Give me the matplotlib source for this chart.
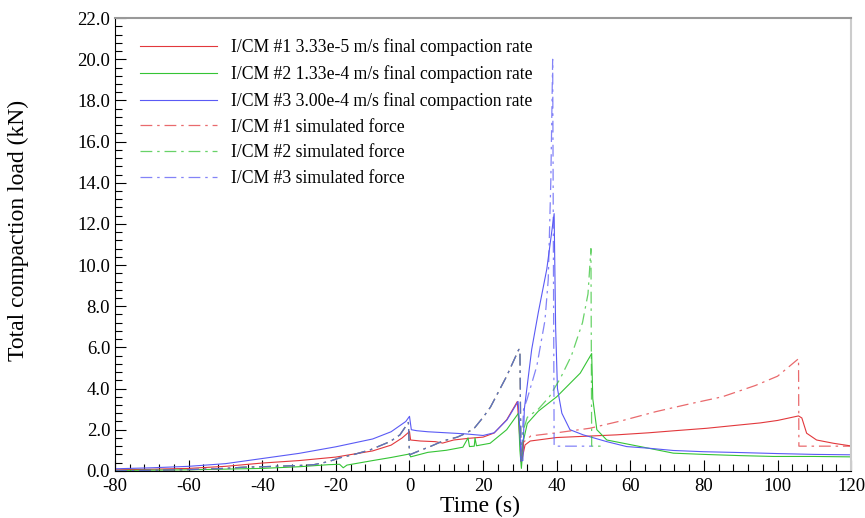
import matplotlib
matplotlib.use("Agg")
import matplotlib.pyplot as plt
from matplotlib.ticker import MultipleLocator, FormatStrFormatter

plt.rcParams["font.family"] = ["Liberation Serif", "DejaVu Serif"]
plt.rcParams["lines.scale_dashes"] = False
plt.rcParams["axes.unicode_minus"] = False

# --- measured curves (time s, load kN) ---
exp1_t = [-80, -70, -60, -50, -40, -30, -20, -10, -5, -2, 0, 0.3, 3, 7, 9, 12, 16, 20, 23,
          26.4, 29.3, 30.0, 30.5, 31.4, 32.8, 40, 50, 56.3, 65, 72, 80.8, 88, 95.3, 100,
          105.7, 106.6, 107.9, 110.6, 115.2, 120]
exp1_y = [0.05, 0.08, 0.12, 0.22, 0.38, 0.5, 0.67, 0.97, 1.25, 1.6, 1.91, 1.5, 1.45, 1.42,
          1.35, 1.5, 1.58, 1.64, 1.84, 2.48, 3.37, 1.5, 0.5, 1.26, 1.45, 1.62, 1.7, 1.75,
          1.85, 1.95, 2.07, 2.2, 2.33, 2.45, 2.67, 2.57, 1.83, 1.5, 1.34, 1.21]

exp2_t = [-80, -60, -40, -30, -22, -19, -18, -17, -10, -5, 0, 0.3, 5, 10, 14.5, 15.9, 16.3,
          17.6, 17.8, 18.2, 21.9, 26.4, 29.6, 30.0, 30.4, 31.0, 32.0, 35, 40, 46.4, 49.5,
          49.8, 50.9, 53.6, 62.7, 71.7, 80, 90, 98.9, 110, 120]
exp2_y = [0.02, 0.05, 0.12, 0.2, 0.3, 0.32, 0.15, 0.28, 0.5, 0.65, 0.82, 0.68, 0.9, 1.0,
          1.15, 1.6, 1.18, 1.2, 1.6, 1.22, 1.34, 2.0, 2.8, 1.0, 0.12, 1.5, 2.3, 2.9, 3.6,
          4.75, 5.7, 3.5, 2.0, 1.5, 1.18, 0.86, 0.8, 0.74, 0.7, 0.7, 0.68]

exp3_t = [-80, -70, -60, -50, -40, -30, -20, -10, -5, -1, 0, 0.5, 2, 5, 10, 15, 20, 23,
          26.5, 29.5, 30.0, 30.3, 30.8, 31.2, 33.2, 35.0, 37.3, 39.3, 39.7, 40.2, 41.4,
          43.6, 47.2, 53.6, 59, 65, 71.7, 80, 89.8, 100, 110, 120]
exp3_y = [0.1, 0.15, 0.22, 0.35, 0.6, 0.85, 1.17, 1.55, 1.9, 2.4, 2.65, 2.0, 1.95, 1.9,
          1.85, 1.8, 1.72, 1.85, 2.48, 3.37, 2.0, 0.5, 0.5, 3.0, 5.9, 7.7, 9.8, 12.5, 7.0,
          4.0, 2.8, 2.0, 1.75, 1.42, 1.18, 1.1, 0.99, 0.93, 0.89, 0.84, 0.8, 0.78]

# --- simulated force: common up to 30 s, then each run on its own ---
sim_pre_t = [-80, -70, -60, -50, -45, -40, -30, -26, -22, -19, -15, -10.7, -5.3, -2.6,
             -0.3, 0.0, 3, 5.6, 9.2, 13, 15, 17.5, 20, 22, 26.4, 29.7]
sim_pre_y = [0.0, 0.03, 0.06, 0.12, 0.18, 0.2, 0.26, 0.3, 0.45, 0.63, 0.8, 1.02, 1.42,
             1.75, 2.35, 0.78, 1.0, 1.18, 1.46, 1.64, 1.8, 2.05, 2.6, 3.1, 4.6, 5.9]

sim1_t = [30.0, 30.3, 31.0, 33, 40, 49, 58, 67, 76, 85, 94, 100, 105.7, 105.8, 120]
sim1_y = [5.9, 0.4, 1.4, 1.7, 1.85, 2.07, 2.45, 2.88, 3.25, 3.6, 4.15, 4.6, 5.45, 1.2, 1.2]

sim2_t = [30.0, 30.3, 31.0, 32, 35, 38, 41, 44, 47, 48.5, 49.3, 49.5, 52]
sim2_y = [5.9, 0.4, 2.0, 2.6, 3.0, 3.6, 4.5, 5.6, 7.2, 8.6, 10.8, 1.2, 1.2]

sim3_t = [30.0, 30.3, 31.0, 31.9, 34.6, 36.8, 37.7, 38.4, 38.9, 39.3, 49.5]
sim3_y = [5.9, 0.4, 3.0, 3.45, 5.1, 7.3, 9.3, 14.1, 20.0, 1.2, 1.2]

labels = ["I/CM #1 3.33e-5 m/s final compaction rate",
          "I/CM #2 1.33e-4 m/s final compaction rate",
          "I/CM #3 3.00e-4 m/s final compaction rate",
          "I/CM #1 simulated force",
          "I/CM #2 simulated force",
          "I/CM #3 simulated force"]
colors = ["#e2383c", "#35c435", "#5a5af5"]

dashdot = (0, (8.5, 3.5, 1.8, 3.5))

fig = plt.figure(figsize=(8.65, 5.18), dpi=100)
ax = fig.add_axes([0.133, 0.091, 0.851, 0.874])

ax.plot(exp1_t, exp1_y, color=colors[0], lw=0.8, label=labels[0])
ax.plot(exp2_t, exp2_y, color=colors[1], lw=0.8, label=labels[1])
ax.plot(exp3_t, exp3_y, color=colors[2], lw=0.8, label=labels[2])

ax.plot(sim_pre_t + sim1_t, sim_pre_y + sim1_y, color=colors[0], lw=0.9, alpha=0.75,
        ls=dashdot, label=labels[3])
ax.plot(sim_pre_t + sim2_t, sim_pre_y + sim2_y, color=colors[1], lw=0.9, alpha=0.75,
        ls=dashdot, label=labels[4])
ax.plot(sim_pre_t + sim3_t, sim_pre_y + sim3_y, color=colors[2], lw=0.9, alpha=0.75,
        ls=dashdot, label=labels[5])

ax.set_xlim(-80, 120)
ax.set_ylim(0, 22)
ax.xaxis.set_major_locator(MultipleLocator(20))
ax.xaxis.set_minor_locator(MultipleLocator(4))
ax.yaxis.set_major_locator(MultipleLocator(2))
ax.yaxis.set_minor_locator(MultipleLocator(0.4))
ax.yaxis.set_major_formatter(FormatStrFormatter("%.1f"))
ax.tick_params(which="both", direction="in", top=False, right=False, labelsize=13.5)
ax.tick_params(which="major", length=8, width=0.8)
ax.tick_params(which="minor", length=5, width=0.8)
ax.tick_params(axis="x", pad=5)
ax.spines["top"].set_color("#999999")
ax.spines["top"].set_linewidth(1.5)
ax.spines["right"].set_color("#cccccc")
ax.spines["right"].set_linewidth(1.5)

ax.set_xlabel("Time (s)", fontsize=17)
ax.xaxis.set_label_coords(0.496, -0.055)
ax.set_ylabel("Total compaction load (kN)", fontsize=17)
ax.yaxis.set_label_coords(-0.117, 0.532)

ax.legend(loc="upper left", bbox_to_anchor=(0.012, 0.99), frameon=False, fontsize=12.7,
          handlelength=4.4, labelspacing=0.5, handletextpad=0.8)

fig.savefig("out.png", dpi=100)
